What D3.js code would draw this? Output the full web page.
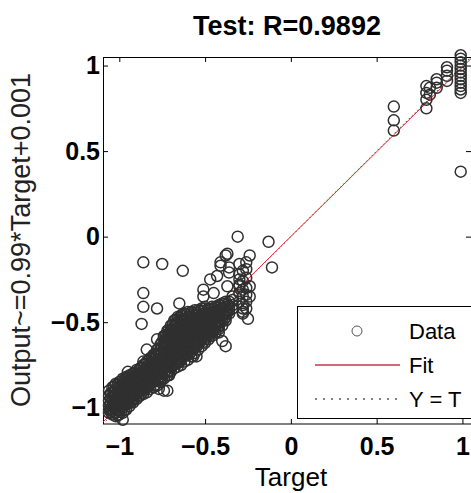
<!DOCTYPE html>
<html>
<head>
<meta charset="utf-8">
<script src="https://cdn.jsdelivr.net/npm/d3@7"></script>
<style>
body { margin: 0; background: #fff; }
svg { display: block; font-family: "Liberation Sans", Arial, sans-serif; }
</style>
</head>
<body>
<svg width="471" height="493"></svg>
<script>
// regression plot values

var rValue = "0.9892";
var fitSlope = 0.99, fitOffset = 0.001;
var tickValues = [-1, -0.5, 0, 0.5, 1];
var legendLabels = ["Data", "Fit", "Y = T"];

// main band: one target, then the outputs seen at that target
var bandTargets = [-1.06, -1.04, -1.02, -1.00, -0.98, -0.96, -0.94, -0.92, -0.90, -0.88,
    -0.86, -0.84, -0.82, -0.80, -0.78, -0.76, -0.74, -0.72, -0.70, -0.68,
    -0.66, -0.64, -0.62, -0.60, -0.58, -0.56, -0.54, -0.52, -0.50, -0.48,
    -0.46, -0.44, -0.42, -0.40, -0.38, -0.36, -0.34, -0.30, -0.28, -0.26];
var bandOutputs = [
    [-0.90, -0.93, -0.96, -0.99, -1.01, -1.03],
    [-0.88, -0.91, -0.94, -0.96, -0.99, -1.02, -1.04],
    [-0.86, -0.89, -0.92, -0.95, -0.97, -1.00, -1.03, -1.05],
    [-0.85, -0.88, -0.91, -0.93, -0.96, -0.99, -1.01, -1.04],
    [-0.83, -0.86, -0.89, -0.92, -0.94, -0.97, -1.00, -1.03],
    [-0.82, -0.85, -0.88, -0.90, -0.93, -0.96, -0.98, -1.01],
    [-0.81, -0.84, -0.86, -0.89, -0.92, -0.94, -0.97, -0.99],
    [-0.80, -0.82, -0.85, -0.88, -0.90, -0.93, -0.95, -0.97],
    [-0.78, -0.81, -0.84, -0.86, -0.89, -0.92, -0.95],
    [-0.77, -0.80, -0.82, -0.85, -0.88, -0.90, -0.93],
    [-0.75, -0.78, -0.81, -0.83, -0.86, -0.89, -0.92],
    [-0.73, -0.76, -0.79, -0.82, -0.85, -0.88, -0.91],
    [-0.71, -0.74, -0.77, -0.80, -0.83, -0.86, -0.89],
    [-0.69, -0.72, -0.75, -0.78, -0.81, -0.84, -0.88],
    [-0.66, -0.69, -0.72, -0.75, -0.78, -0.81, -0.84, -0.87],
    [-0.63, -0.66, -0.69, -0.72, -0.75, -0.78, -0.82, -0.85],
    [-0.59, -0.62, -0.65, -0.68, -0.71, -0.74, -0.77, -0.80, -0.83],
    [-0.55, -0.58, -0.61, -0.64, -0.67, -0.70, -0.73, -0.76, -0.79, -0.81],
    [-0.52, -0.55, -0.58, -0.61, -0.64, -0.67, -0.70, -0.73, -0.76, -0.79],
    [-0.49, -0.52, -0.55, -0.58, -0.61, -0.64, -0.67, -0.70, -0.73, -0.77],
    [-0.47, -0.50, -0.53, -0.56, -0.59, -0.62, -0.65, -0.68, -0.71, -0.73, -0.76],
    [-0.46, -0.49, -0.52, -0.55, -0.58, -0.61, -0.64, -0.67, -0.70, -0.72, -0.75],
    [-0.45, -0.48, -0.51, -0.54, -0.57, -0.60, -0.63, -0.66, -0.69, -0.73],
    [-0.44, -0.47, -0.50, -0.53, -0.56, -0.59, -0.62, -0.65, -0.68, -0.72],
    [-0.44, -0.47, -0.50, -0.53, -0.56, -0.59, -0.62, -0.65, -0.67, -0.70],
    [-0.43, -0.46, -0.49, -0.52, -0.55, -0.58, -0.61, -0.64, -0.68],
    [-0.43, -0.46, -0.49, -0.52, -0.55, -0.58, -0.61, -0.63, -0.66],
    [-0.42, -0.45, -0.48, -0.51, -0.54, -0.57, -0.60, -0.64],
    [-0.42, -0.45, -0.48, -0.51, -0.54, -0.57, -0.60, -0.62],
    [-0.42, -0.45, -0.48, -0.51, -0.54, -0.57, -0.60],
    [-0.41, -0.44, -0.47, -0.50, -0.53, -0.56, -0.58],
    [-0.41, -0.44, -0.47, -0.50, -0.53, -0.56],
    [-0.40, -0.43, -0.46, -0.49, -0.52, -0.54],
    [-0.39, -0.42, -0.45, -0.48, -0.52],
    [-0.38, -0.41, -0.44, -0.47, -0.49],
    [-0.38, -0.41, -0.43, -0.45],
    [-0.37, -0.40, -0.42],
    [-0.16, -0.22, -0.28, -0.33, -0.38],
    [-0.20, -0.26, -0.31, -0.35, -0.40, -0.45],
    [-0.15, -0.24, -0.30, -0.34, -0.42]
];

// core of the band, targets between the ones above
var coreTargets = [-1.05, -1.03, -1.01, -0.99, -0.97, -0.95, -0.93, -0.91, -0.89, -0.87,
    -0.85, -0.83, -0.81, -0.79, -0.77, -0.75, -0.73, -0.71, -0.69, -0.67,
    -0.65, -0.63, -0.61, -0.59, -0.57, -0.55, -0.53, -0.51, -0.49, -0.47,
    -0.45, -0.43, -0.41, -0.39, -0.37];
var coreOutputs = [
    [-0.915, -0.945, -0.975, -1.005, -1.025],
    [-0.875, -0.905, -0.935, -0.965, -0.995, -1.025],
    [-0.865, -0.895, -0.925, -0.955, -0.985, -1.015, -1.045],
    [-0.845, -0.875, -0.905, -0.935, -0.965, -0.995, -1.025],
    [-0.835, -0.865, -0.895, -0.925, -0.955, -0.985, -1.015],
    [-0.825, -0.855, -0.885, -0.915, -0.945, -0.975],
    [-0.815, -0.845, -0.875, -0.905, -0.935, -0.965],
    [-0.795, -0.825, -0.855, -0.885, -0.915, -0.945],
    [-0.785, -0.815, -0.845, -0.875, -0.905, -0.935],
    [-0.765, -0.795, -0.825, -0.855, -0.885, -0.915],
    [-0.745, -0.775, -0.805, -0.835, -0.865, -0.895],
    [-0.725, -0.755, -0.785, -0.815, -0.845, -0.875],
    [-0.705, -0.735, -0.765, -0.795, -0.825, -0.855],
    [-0.685, -0.715, -0.745, -0.775, -0.805, -0.835, -0.865],
    [-0.655, -0.685, -0.715, -0.745, -0.775, -0.805, -0.835],
    [-0.615, -0.645, -0.675, -0.705, -0.735, -0.765, -0.795, -0.825],
    [-0.575, -0.605, -0.635, -0.665, -0.695, -0.725, -0.755, -0.785],
    [-0.545, -0.575, -0.605, -0.635, -0.665, -0.695, -0.725, -0.755, -0.785],
    [-0.515, -0.545, -0.575, -0.605, -0.635, -0.665, -0.695, -0.725, -0.755],
    [-0.485, -0.515, -0.545, -0.575, -0.605, -0.635, -0.665, -0.695, -0.725, -0.745],
    [-0.475, -0.505, -0.535, -0.565, -0.595, -0.625, -0.655, -0.685, -0.715, -0.735],
    [-0.465, -0.495, -0.525, -0.555, -0.585, -0.615, -0.645, -0.675, -0.705],
    [-0.455, -0.485, -0.515, -0.545, -0.575, -0.605, -0.635, -0.665, -0.695],
    [-0.455, -0.485, -0.515, -0.545, -0.575, -0.605, -0.635, -0.665, -0.685],
    [-0.445, -0.475, -0.505, -0.535, -0.565, -0.595, -0.625, -0.655],
    [-0.445, -0.475, -0.505, -0.535, -0.565, -0.595, -0.625, -0.645],
    [-0.435, -0.465, -0.495, -0.525, -0.555, -0.585, -0.615],
    [-0.435, -0.465, -0.495, -0.525, -0.555, -0.585, -0.615],
    [-0.435, -0.465, -0.495, -0.525, -0.555, -0.585],
    [-0.425, -0.455, -0.485, -0.515, -0.545, -0.575],
    [-0.425, -0.455, -0.485, -0.515, -0.545],
    [-0.415, -0.445, -0.475, -0.505, -0.535],
    [-0.405, -0.435, -0.465, -0.495],
    [-0.395, -0.425, -0.455, -0.485],
    [-0.395, -0.425, -0.445]
];

// loose points around the band
var strayTargets = [-0.31, -0.13, -0.11, -0.86, -0.75, -0.63, -0.86, -0.86, -0.78, -0.87,
    -0.65, -0.38, -0.24, -0.41, -0.36, -0.26, -0.47, -0.30, -0.24, -0.26,
    -0.28, -0.51, -0.50, -0.40, -0.42, -0.46, -0.55,
    -0.95, -0.86, -0.74, -0.98, -0.77, -0.71, -0.74,
    -0.41, -0.37, -0.43, -0.36, -0.30, -0.45, -0.51, -0.24, -0.28, -0.25,
    -0.37, -0.34, -0.84, -0.78, -0.72, -0.75, -0.57, -0.38];
var strayOutputs = [0.0, -0.03, -0.18, -0.15, -0.16, -0.20, -0.33, -0.41, -0.42, -0.51,
    -0.39, -0.11, -0.11, -0.17, -0.18, -0.19, -0.25, -0.25, -0.29, -0.38,
    -0.44, -0.35, -0.41, -0.61, -0.56, -0.55, -0.70,
    -0.79, -0.73, -0.58, -1.07, -0.89, -0.81, -0.90,
    -0.15, -0.10, -0.23, -0.21, -0.29, -0.33, -0.31, -0.35, -0.42, -0.48,
    -0.29, -0.35, -0.66, -0.60, -0.90, -0.83, -0.70, -0.64];

// upper right group
var highTargets = [0.6, 0.79, 0.81, 0.85, 0.91, 0.99];
var highOutputs = [
    [0.62, 0.68, 0.76],
    [0.75, 0.80, 0.84, 0.88],
    [0.83, 0.87],
    [0.87, 0.90, 0.92],
    [0.91, 0.94, 0.97, 0.99],
    [0.38, 0.84, 0.86, 0.88, 0.90, 0.92, 0.94, 0.96, 0.98, 1.0, 1.02, 1.04, 1.06]
];

var svg = d3.select("svg");

var x = d3.scaleLinear().domain([-1.095, 1.05]).range([103, 471]),
    y = d3.scaleLinear().domain([-1.095, 1.05]).range([424, 57]);

var fmt = d3.format("~g");

// flatten all groups to [target, output]
var points = [];
function addColumns(targets, outputs) {
    targets.forEach(function (t, i) {
        outputs[i].forEach(function (o) { points.push([t, o]); });
    });
}
addColumns(bandTargets, bandOutputs);
addColumns(coreTargets, coreOutputs);
strayTargets.forEach(function (t, i) { points.push([t, strayOutputs[i]]); });
addColumns(highTargets, highOutputs);

// axes, MATLAB style ticks inside the box
function styleAxis(g) {
    g.select(".domain").remove();
    g.selectAll("line").attr("stroke", "#000");
    g.selectAll("text")
        .attr("fill", "#000")
        .style("font-size", "25px")
        .style("font-weight", "bold");
}

svg.append("g")
    .attr("transform", "translate(0,424)")
    .call(d3.axisBottom(x).tickValues(tickValues).tickSize(-5).tickPadding(13).tickFormat(fmt))
    .call(styleAxis);

svg.append("g")
    .attr("transform", "translate(103,0)")
    .call(d3.axisLeft(y).tickValues(tickValues).tickSize(-5).tickPadding(3).tickFormat(fmt))
    .call(styleAxis);

svg.append("g")
    .attr("transform", "translate(0,57)")
    .call(d3.axisTop(x).tickValues(tickValues).tickSize(-5).tickFormat(""))
    .call(styleAxis);

svg.append("g")
    .attr("transform", "translate(471,0)")
    .call(d3.axisRight(y).tickValues(tickValues).tickSize(-5).tickFormat(""))
    .call(styleAxis);

svg.append("rect")
    .attr("x", 103.5).attr("y", 57.5)
    .attr("width", 368).attr("height", 366.5)
    .attr("fill", "none")
    .attr("stroke", "#000");

// Y = T and fit lines across the axis limits, under the data
var lim = x.domain();
svg.append("line")
    .attr("x1", x(lim[0])).attr("y1", y(lim[0]))
    .attr("x2", x(lim[1])).attr("y2", y(lim[1]))
    .attr("stroke", "#000")
    .attr("stroke-dasharray", "1,3");

svg.append("line")
    .attr("x1", x(lim[0])).attr("y1", y(fitSlope * lim[0] + fitOffset))
    .attr("x2", x(lim[1])).attr("y2", y(fitSlope * lim[1] + fitOffset))
    .attr("stroke", "#e0302f")
    .attr("stroke-width", 1);

// data circles
svg.append("g").selectAll("circle")
    .data(points)
    .enter().append("circle")
    .attr("cx", function (d) { return x(d[0]); })
    .attr("cy", function (d) { return y(d[1]); })
    .attr("r", 5.5)
    .attr("fill", "none")
    .attr("stroke", "#303030")
    .attr("stroke-width", 1.5);

// legend
var legend = svg.append("g");
legend.append("rect")
    .attr("x", 297.5).attr("y", 306.5)
    .attr("width", 190).attr("height", 112)
    .attr("fill", "#fff")
    .attr("stroke", "#000");

legend.append("circle")
    .attr("cx", 357).attr("cy", 331)
    .attr("r", 5)
    .attr("fill", "none")
    .attr("stroke", "#555");
legend.append("line")
    .attr("x1", 315).attr("x2", 400)
    .attr("y1", 365).attr("y2", 365)
    .attr("stroke", "#d0304a")
    .attr("stroke-width", 1.5);
legend.append("line")
    .attr("x1", 315).attr("x2", 400)
    .attr("y1", 399).attr("y2", 399)
    .attr("stroke", "#000")
    .attr("stroke-width", 1.2)
    .attr("stroke-dasharray", "2,6");

legend.selectAll("text")
    .data(legendLabels)
    .enter().append("text")
    .attr("x", 409)
    .attr("y", function (d, i) { return 339 + i * 34; })
    .style("font-size", "22px")
    .text(function (d) { return d; });

// title and labels
svg.append("text")
    .attr("x", 287).attr("y", 35)
    .attr("text-anchor", "middle")
    .style("font-size", "27px")
    .style("font-weight", "bold")
    .text("Test: R=" + rValue);

svg.append("text")
    .attr("x", 291).attr("y", 486)
    .attr("text-anchor", "middle")
    .style("font-size", "26px")
    .text("Target");

svg.append("text")
    .attr("transform", "translate(30,240) rotate(-90)")
    .attr("text-anchor", "middle")
    .attr("fill", "#222")
    .style("font-size", "27px")
    .text("Output~=" + fitSlope + "*Target+" + fitOffset);
</script>
</body>
</html>
